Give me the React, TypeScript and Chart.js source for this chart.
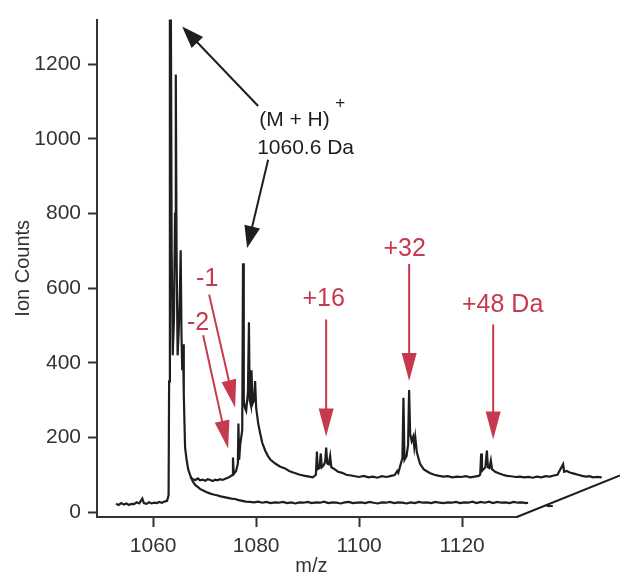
import React, { useEffect, useRef } from "react";
import { Chart, registerables } from "chart.js";

Chart.register(...registerables);

// Front spectrum (m/z, ion counts)
const FRONT_MZ = [
  1052.8, 1053.3, 1053.8, 1054.3, 1054.8, 1055.3, 1055.8, 1056.3, 1056.8, 1057.3,
  1057.9, 1058.2, 1058.7, 1059.2, 1059.7, 1060.2, 1060.7, 1061.2, 1061.7, 1062.2,
  1062.7, 1063.0, 1063.1, 1063.25, 1063.45, 1063.6, 1063.8, 1064.05, 1064.25, 1064.4,
  1064.55, 1064.75, 1064.95, 1065.15, 1065.35, 1065.5, 1065.65, 1065.8, 1065.95, 1066.2,
  1066.5, 1066.8, 1067.2, 1067.7, 1068.2, 1068.6, 1069.1, 1069.7, 1070.3, 1071.0,
  1071.7, 1072.4, 1073.1, 1073.8, 1074.5, 1075.2, 1075.9, 1076.6, 1077.3, 1078.0,
  1078.8, 1079.6, 1080.4, 1081.2, 1082.0, 1082.8, 1083.6, 1084.4, 1085.2, 1086.0,
  1086.8, 1087.6, 1088.4, 1089.2, 1090.0, 1090.8, 1091.6, 1092.4, 1093.2, 1094.0,
  1094.8, 1095.6, 1096.4, 1097.2, 1098.0, 1098.8, 1099.6, 1100.4, 1101.2, 1102.0,
  1102.8, 1103.6, 1104.4, 1105.2, 1106.0, 1106.8, 1107.6, 1108.4, 1109.2, 1110.0,
  1110.8, 1111.6, 1112.4, 1113.2, 1114.0, 1114.8, 1115.6, 1116.4, 1117.2, 1118.0,
  1118.8, 1119.6, 1120.4, 1121.2, 1122.0, 1122.8, 1123.6, 1124.4, 1125.2, 1126.0,
  1126.8, 1127.6, 1128.4, 1129.2, 1130.0, 1130.8, 1131.6, 1132.4, 1132.8,
];
const FRONT_COUNTS = [
  22, 19, 24, 20, 23, 19, 22, 21, 26, 23,
  36, 24, 22, 26, 23, 25, 24, 27, 25, 28,
  30, 45, 350, 1320, 1320, 700, 420, 520, 800, 1173,
  700, 420, 480, 560, 702, 480, 380, 450, 316, 173,
  140, 115, 98, 82, 72, 68, 62, 58, 54, 50,
  47, 45, 42, 40, 38, 36, 35, 32, 30, 28,
  27, 26, 28, 25, 27, 24, 26, 25, 27, 24,
  26, 23, 26, 25, 27, 24, 26, 25, 28, 24,
  26, 25, 23, 26, 27, 24, 25, 26, 24, 27,
  25, 23, 26, 25, 27, 24, 26, 25, 23, 26,
  24, 27, 25, 26, 24, 27, 25, 24, 26, 25,
  27, 24, 26, 25, 28, 24, 27, 25, 28, 24,
  27, 25, 26, 24, 27, 25, 26, 24, 25,
];

// Back (offset) spectrum, in the plotted axis units
const BACK_MZ = [
  1067.2, 1067.7, 1068.2, 1068.7, 1069.1, 1069.6, 1070.1, 1070.6, 1071.1, 1071.6,
  1072.0, 1072.5, 1073.0, 1073.5, 1074.0, 1074.5, 1074.95, 1075.4, 1075.5, 1075.65,
  1076.1, 1076.45, 1076.56, 1076.7, 1076.9, 1077.3, 1077.45, 1077.6, 1077.8, 1078.06,
  1078.4, 1078.6, 1078.75, 1079.0, 1079.1, 1079.3, 1079.6, 1079.8, 1080.0, 1080.4,
  1080.8, 1081.2, 1081.75, 1082.3, 1082.8, 1083.7, 1084.6, 1085.6, 1086.4, 1087.2,
  1088.5, 1089.5, 1090.3, 1091.0, 1091.6, 1091.8, 1091.95, 1092.3, 1092.55, 1092.75,
  1093.1, 1093.4, 1093.6, 1093.8, 1094.1, 1094.37, 1094.6, 1095.2, 1095.9, 1096.7,
  1097.5, 1098.4, 1099.2, 1100.0, 1100.9, 1101.8, 1102.7, 1103.5, 1104.4, 1105.3,
  1106.2, 1106.9, 1107.4, 1107.6, 1108.1, 1108.4, 1108.6, 1108.8, 1109.2, 1109.5,
  1109.7, 1109.9, 1110.2, 1110.5, 1110.7, 1110.9, 1111.2, 1111.8, 1112.5, 1113.3,
  1113.8, 1114.6, 1115.5, 1116.4, 1117.2, 1118.1, 1119.0, 1119.8, 1120.7, 1121.6,
  1122.4, 1123.2, 1123.5, 1123.69, 1123.85, 1124.2, 1124.5, 1124.8, 1125.0, 1125.3,
  1125.57, 1125.8, 1126.4, 1127.1, 1127.9, 1128.7, 1129.5, 1130.4, 1131.2, 1132.0,
  1132.9, 1133.7, 1134.5, 1135.4, 1136.2, 1137.0, 1137.8, 1138.5, 1139.6, 1139.8,
  1140.3, 1140.9, 1141.7, 1142.5, 1143.3, 1144.0, 1144.7, 1145.4, 1146.3, 1147.1,
];
const BACK_COUNTS = [
  93, 88, 86, 90, 85, 87, 84, 88, 86, 83,
  87, 85, 88, 86, 89, 92, 95, 100, 146, 102,
  110, 130, 237, 140, 180, 220, 667, 300, 280, 271,
  320, 509, 300, 285, 380, 290, 300, 351, 280, 237,
  210, 185, 165, 150, 140, 130, 122, 117, 110, 106,
  100, 97, 95, 93, 100, 162, 115, 118, 157, 120,
  125, 135, 173, 130, 128, 150, 120, 115, 108, 105,
  100, 98, 96, 94, 97, 93, 95, 92, 96, 94,
  97, 99, 110, 105, 130, 145, 306, 140, 150, 180,
  327, 210, 190, 202, 175, 200, 160, 130, 115, 108,
  104, 100, 97, 95, 96, 93, 95, 94, 96, 93,
  95, 97, 100, 157, 110, 115, 120, 165, 120, 118,
  138, 115, 108, 104, 100, 97, 96, 94, 95, 93,
  94, 92, 95, 93, 96, 95, 98, 100, 128, 108,
  110, 106, 103, 100, 97, 95, 96, 93, 94, 93,
];

const X_TICKS = [1060, 1080, 1100, 1120];
const Y_TICKS = [0, 200, 400, 600, 800, 1000, 1200];

const X_MIN = 1049.1;
const X_AXIS_END = 1130.8; // where the drawn m/z axis line stops
const X_SCALE_MAX = 1147.5; // scale extends so the offset trace can run past the axis
const Y_MIN = -13.3;
const Y_MAX = 1320;

// Annotations (data units)
const BLACK_ARROW_FROM = [[1080.39, 1088.3], [1082.33, 944.6]];
const BLACK_ARROW_TO = [[1065.63, 1301.2], [1078.25, 707.8]];
const ION_LABEL = "(M + H)";
const ION_LABEL_POS = [1080.58, 1035.1];
const ION_SUP = "+";
const ION_SUP_POS = [1096.31, 1096.3];
const MASS_LABEL = "1060.6 Da";
const MASS_LABEL_POS = [1080.19, 960.6];

const RED_LABELS = ["-1", "-2", "+16", "+32", "+48 Da"];
const RED_LABEL_POS = [
  [1070.49, 625.3], [1068.74, 505.6], [1093.11, 572.1], [1108.83, 705.2], [1127.86, 553.5],
];
const RED_ARROW_FROM = [
  [1070.87, 582.8], [1069.71, 473.7], [1093.59, 516.2], [1109.71, 665.2], [1126.02, 502.9],
];
const RED_ARROW_TO = [
  [1075.92, 279.4], [1074.56, 170.3], [1093.59, 202.2], [1109.71, 351.3], [1126.02, 194.3],
];

const FONT = "'Liberation Sans', Arial, sans-serif";
const INK = "#1e1e1e";
const AXIS = "#333333";
const RED = "#c63a4f";

function drawArrow(
  ctx: CanvasRenderingContext2D,
  x1: number, y1: number, x2: number, y2: number,
  headLen: number, headHalf: number, color: string, lw: number
) {
  const dx = x2 - x1;
  const dy = y2 - y1;
  const len = Math.sqrt(dx * dx + dy * dy);
  const ux = dx / len;
  const uy = dy / len;
  const bx = x2 - ux * headLen;
  const by = y2 - uy * headLen;
  ctx.save();
  ctx.strokeStyle = color;
  ctx.fillStyle = color;
  ctx.lineWidth = lw;
  ctx.beginPath();
  ctx.moveTo(x1, y1);
  ctx.lineTo(bx + ux * 2, by + uy * 2);
  ctx.stroke();
  ctx.beginPath();
  ctx.moveTo(x2, y2);
  ctx.lineTo(bx - uy * headHalf, by + ux * headHalf);
  ctx.lineTo(bx + uy * headHalf, by - ux * headHalf);
  ctx.closePath();
  ctx.fill();
  ctx.restore();
}

const annotationPlugin = {
  id: "annot",
  afterDraw(chart: any) {
    const ctx: CanvasRenderingContext2D = chart.ctx;
    const xs = chart.scales.x;
    const ys = chart.scales.y;
    const px = (v: number) => xs.getPixelForValue(v);
    const py = (v: number) => ys.getPixelForValue(v);
    const area = chart.chartArea;
    const axisEnd = px(X_AXIS_END);

    // m/z axis line and offset axis (diagonal)
    ctx.save();
    ctx.strokeStyle = AXIS;
    ctx.lineWidth = 2;
    ctx.beginPath();
    ctx.moveTo(area.left - 1, area.bottom);
    ctx.lineTo(axisEnd, area.bottom);
    ctx.stroke();
    ctx.strokeStyle = INK;
    ctx.beginPath();
    ctx.moveTo(axisEnd - 1, area.bottom);
    ctx.lineTo(chart.width, py(98));
    ctx.stroke();
    ctx.beginPath();
    ctx.moveTo(px(1136.4), py(16));
    ctx.lineTo(px(1137.6), py(16));
    ctx.stroke();
    ctx.restore();

    // axis titles
    ctx.save();
    ctx.fillStyle = AXIS;
    ctx.font = `20px ${FONT}`;
    ctx.textAlign = "center";
    ctx.textBaseline = "middle";
    ctx.translate(23, (area.top + area.bottom) / 2);
    ctx.rotate(-Math.PI / 2);
    ctx.fillText("Ion Counts", 0, 0);
    ctx.restore();

    ctx.save();
    ctx.fillStyle = AXIS;
    ctx.font = `20px ${FONT}`;
    ctx.textAlign = "center";
    ctx.textBaseline = "alphabetic";
    ctx.fillText("m/z", (area.left + axisEnd) / 2 + 4, chart.height - 0.5);
    ctx.restore();

    // black annotations
    for (let i = 0; i < BLACK_ARROW_FROM.length; i++) {
      drawArrow(
        ctx,
        px(BLACK_ARROW_FROM[i][0]), py(BLACK_ARROW_FROM[i][1]),
        px(BLACK_ARROW_TO[i][0]), py(BLACK_ARROW_TO[i][1]),
        22, 8, INK, 2
      );
    }
    ctx.save();
    ctx.fillStyle = INK;
    ctx.textAlign = "left";
    ctx.textBaseline = "alphabetic";
    ctx.font = `21px ${FONT}`;
    ctx.fillText(ION_LABEL, px(ION_LABEL_POS[0]), py(ION_LABEL_POS[1]));
    ctx.fillText(MASS_LABEL, px(MASS_LABEL_POS[0]), py(MASS_LABEL_POS[1]));
    ctx.font = `17px ${FONT}`;
    ctx.textAlign = "center";
    ctx.textBaseline = "middle";
    ctx.fillText(ION_SUP, px(ION_SUP_POS[0]), py(ION_SUP_POS[1]));
    ctx.restore();

    // red annotations
    for (let i = 0; i < RED_LABELS.length; i++) {
      drawArrow(
        ctx,
        px(RED_ARROW_FROM[i][0]), py(RED_ARROW_FROM[i][1]),
        px(RED_ARROW_TO[i][0]), py(RED_ARROW_TO[i][1]),
        28, 7.5, RED, 2
      );
      ctx.save();
      ctx.fillStyle = RED;
      ctx.font = `25px ${FONT}`;
      ctx.textAlign = "center";
      ctx.textBaseline = "middle";
      ctx.fillText(RED_LABELS[i], px(RED_LABEL_POS[i][0]), py(RED_LABEL_POS[i][1]));
      ctx.restore();
    }
  },
};

export default function App() {
  const ref = useRef<HTMLCanvasElement | null>(null);

  useEffect(() => {
    document.body.style.margin = "0";
    document.body.style.background = "#ffffff";
    if (!ref.current) return;
    const front = FRONT_MZ.map((x, i) => ({ x, y: FRONT_COUNTS[i] }));
    const back = BACK_MZ.map((x, i) => ({ x, y: BACK_COUNTS[i] }));
    const chart = new Chart(ref.current, {
      type: "scatter",
      data: {
        datasets: [
          {
            data: back,
            showLine: true,
            borderColor: INK,
            borderWidth: 2.2,
            pointRadius: 0,
            tension: 0,
          },
          {
            data: front,
            showLine: true,
            borderColor: INK,
            borderWidth: 2.2,
            pointRadius: 0,
            tension: 0,
          },
        ],
      },
      options: {
        animation: false,
        responsive: false,
        maintainAspectRatio: false,
        layout: { padding: { top: 16, right: 16.2, left: 0, bottom: 0 } },
        plugins: {
          legend: { display: false },
          tooltip: { enabled: false },
        },
        scales: {
          x: {
            type: "linear",
            min: X_MIN,
            max: X_SCALE_MAX,
            afterBuildTicks: (s: any) => {
              s.ticks = X_TICKS.map((v) => ({ value: v }));
            },
            afterFit: (s: any) => {
              s.height = 55;
            },
            grid: {
              drawOnChartArea: false,
              drawTicks: true,
              tickLength: 10,
              tickWidth: 2,
              tickColor: AXIS,
            },
            border: { display: false },
            ticks: {
              color: AXIS,
              font: { family: FONT, size: 21 },
              padding: 7,
              maxRotation: 0,
              autoSkip: false,
              callback: (v: any) => String(v),
            },
          },
          y: {
            type: "linear",
            min: Y_MIN,
            max: Y_MAX,
            afterBuildTicks: (s: any) => {
              s.ticks = Y_TICKS.map((v) => ({ value: v }));
            },
            afterFit: (s: any) => {
              s.width = 97;
            },
            grid: {
              drawOnChartArea: false,
              drawTicks: true,
              tickLength: 9,
              tickWidth: 2,
              tickColor: AXIS,
            },
            border: { display: true, color: AXIS, width: 2 },
            ticks: {
              color: AXIS,
              font: { family: FONT, size: 21 },
              padding: 7,
              autoSkip: false,
              callback: (v: any) => String(v),
            },
          },
        },
      },
      plugins: [annotationPlugin],
    });
    return () => chart.destroy();
  }, []);

  return (
    <div style={{ width: 620, height: 572, background: "#ffffff" }}>
      <canvas ref={ref} width={620} height={572} style={{ display: "block" }} />
    </div>
  );
}
